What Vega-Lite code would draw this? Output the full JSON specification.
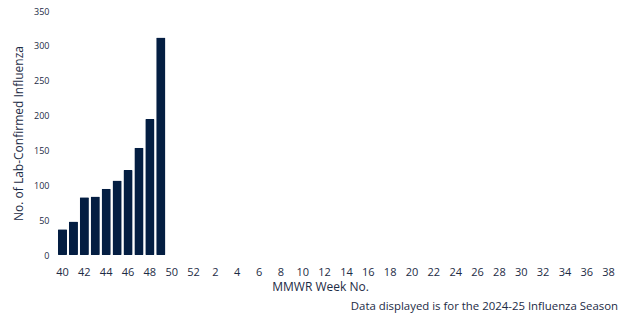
{
  "$schema": "https://vega.github.io/schema/vega-lite/v6.json",
  "autosize": "none",
  "width": 562,
  "height": 244,
  "padding": {"left": 57, "top": 11, "right": 0, "bottom": 58},
  "background": "white",
  "config": {
    "font": "Open Sans",
    "view": {"stroke": null}
  },
  "title": {
    "text": "Data displayed is for the 2024-25 Influenza Season",
    "orient": "bottom",
    "anchor": "end",
    "frame": "group",
    "fontSize": 11.4,
    "fontWeight": "normal",
    "color": "#1c2b45",
    "offset": 9,
    "dx": -1
  },
  "data": {
    "values": [
      {"week": 40, "count": 37},
      {"week": 41, "count": 48},
      {"week": 42, "count": 83},
      {"week": 43, "count": 84},
      {"week": 44, "count": 95},
      {"week": 45, "count": 107},
      {"week": 46, "count": 122},
      {"week": 47, "count": 154},
      {"week": 48, "count": 195},
      {"week": 49, "count": 312}
    ]
  },
  "mark": {"type": "bar", "color": "#041e42", "cornerRadius": 1},
  "encoding": {
    "x": {
      "field": "week",
      "type": "ordinal",
      "scale": {
        "domain": [40,41,42,43,44,45,46,47,48,49,50,51,52,1,2,3,4,5,6,7,8,9,10,11,12,13,14,15,16,17,18,19,20,21,22,23,24,25,26,27,28,29,30,31,32,33,34,35,36,37,38,39],
        "range": [0, 568],
        "paddingInner": 0.16,
        "paddingOuter": 0.08
      },
      "axis": {
        "title": "MMWR Week No.",
        "values": [40,42,44,46,48,50,52,2,4,6,8,10,12,14,16,18,20,22,24,26,28,30,32,34,36,38],
        "labelAngle": 0,
        "labelFontSize": 11,
        "labelColor": "#1c2b45",
        "labelPadding": 11,
        "ticks": false,
        "domain": false,
        "grid": false,
        "titleFontSize": 12,
        "titleFontWeight": "normal",
        "titleColor": "#1c2b45",
        "titleX": 263,
        "titlePadding": 4
      }
    },
    "y": {
      "field": "count",
      "type": "quantitative",
      "scale": {"domain": [0, 350]},
      "axis": {
        "title": "No. of Lab-Confirmed Influenza",
        "values": [0,50,100,150,200,250,300,350],
        "labelFontSize": 9,
        "labelColor": "#1c2b45",
        "labelPadding": 8,
        "ticks": false,
        "domain": false,
        "grid": false,
        "titleFontSize": 12,
        "titleFontWeight": "normal",
        "titleColor": "#1c2b45",
        "titlePadding": 8
      }
    }
  }
}
